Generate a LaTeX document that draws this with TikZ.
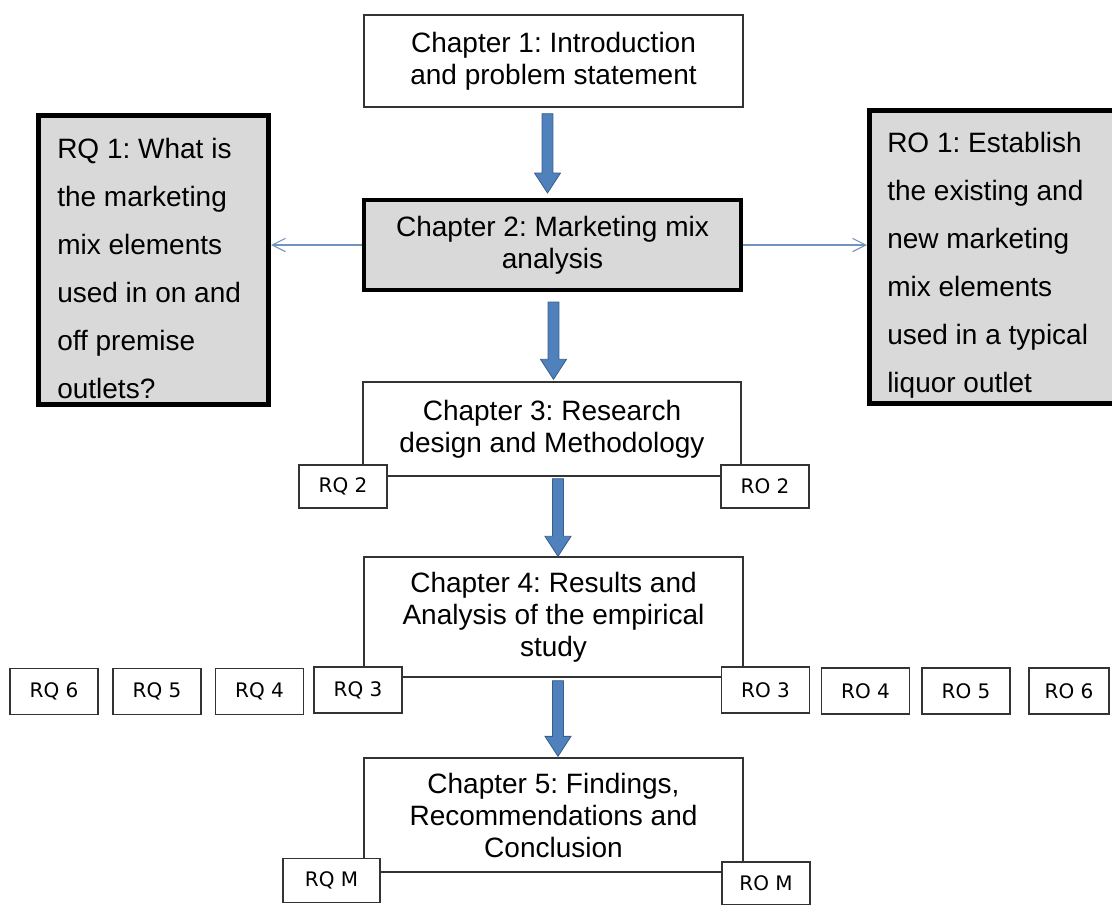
\documentclass[tikz,border=0pt]{standalone}
\usepackage{fontspec}
\setmainfont{Liberation Sans}
\newfontfamily\boxfont{DejaVu Sans}
\usetikzlibrary{calc,arrows.meta}
\frenchspacing
\definecolor{arrowblue}{HTML}{4F81BD}
\definecolor{arrowedge}{HTML}{385D8A}
\definecolor{linkblue}{HTML}{7394BD}
\definecolor{panelgray}{HTML}{D9D9D9}
\definecolor{frame}{HTML}{333333}

% Thick blue block arrow pointing down from #1 to #2 (x taken from #1)
\newcommand\blockarrow[2]{%
  \path[barrow] let \p1=(#1), \p2=(#2) in
    (\x1-4.1pt,\y1) -- (\x1+4.1pt,\y1) -- (\x1+4.1pt,\y2+15pt)
    -- (\x1+9.75pt,\y2+15pt) -- (\x1,\y2) -- (\x1-9.75pt,\y2+15pt)
    -- (\x1-4.1pt,\y2+15pt) -- cycle;}

\begin{document}
\begin{tikzpicture}[x=0.75pt,y=-0.75pt,
  chapter/.style={draw=frame, line width=1pt, fill=white, inner sep=0pt,
    align=center, font=\fontsize{21pt}{24pt}\selectfont},
  keychapter/.style={chapter, draw=black, line width=3pt, fill=panelgray},
  keybox/.style={draw=black, line width=3.75pt, fill=panelgray, inner sep=0pt},
  keytext/.style={inner sep=0pt, align=left, font=\fontsize{21pt}{36pt}\selectfont},
  tag/.style={draw=frame, line width=0.9pt, fill=white, inner sep=0pt,
    font=\boxfont\fontsize{15pt}{17pt}\selectfont},
  barrow/.style={fill=arrowblue, draw=arrowedge, line width=0.6pt, line join=miter},
  link/.style={draw=linkblue, line width=0.8pt, -{Straight Barb[length=10pt,width=10pt]}}
]
\useasboundingbox (0,0) rectangle (1112,904);

% chapter boxes
\node[chapter, minimum width=284.25pt, minimum height=69pt] (ch1) at (553.5,61)
  {Chapter 1: Introduction\\and problem statement};
\node[keychapter, minimum width=282.75pt, minimum height=67.5pt] (ch2) at (552.5,245)
  {Chapter 2: Marketing mix\\analysis};
\node[chapter, minimum width=283.5pt, minimum height=70.5pt] (ch3) at (552,429)
  {Chapter 3: Research\\design and Methodology};
\node[chapter, minimum width=284.25pt, minimum height=90pt] (ch4) at (553.5,617)
  {Chapter 4: Results and\\Analysis of the empirical\\study};
\node[chapter, minimum width=284.25pt, minimum height=85.5pt] (ch5) at (553.5,815)
  {Chapter 5: Findings,\\Recommendations and\\Conclusion};

% research question / objective panels
\node[keybox, minimum width=172.5pt, minimum height=216.75pt] (rq1) at (153.5,260) {};
\node[keytext, anchor=base west] (rq1t) at (57,398)
  {RQ 1: What is\\the marketing\\mix elements\\used in on and\\off premise\\outlets?};
\node[keybox, minimum width=187.5pt, minimum height=219.75pt] (ro1) at (994.5,257) {};
\node[keytext, anchor=base west] (ro1t) at (887,392)
  {RO 1: Establish\\the existing and\\new marketing\\mix elements\\used in a typical\\liquor outlet};

\draw[link] (ch2.west) -- (ch2.west -| rq1.east);
\draw[link] (ch2.east) -- (ch2.east -| ro1.west);

% flow arrows
\coordinate (a1s) at ($(ch1.south)+(-6,6)$);
\coordinate (a1e) at ($(ch2.north)+(-6,-5)$);
\coordinate (a2s) at ($(ch2.south)+(1,10)$);
\coordinate (a2e) at ($(ch3.north)+(1,-2)$);
\coordinate (a3s) at ($(ch3.south)+(6,2)$);
\coordinate (a3e) at ($(ch4.north)+(4.5,0)$);
\coordinate (a4s) at ($(ch4.south)+(4.5,3)$);
\coordinate (a4e) at ($(ch5.north)+(4.5,-1)$);
\blockarrow{a1s}{a1e}
\blockarrow{a2s}{a2e}
\blockarrow{a3s}{a3e}
\blockarrow{a4s}{a4e}

% small tags
\node[tag, minimum width=66pt, minimum height=32.25pt] (rq2) at (343,486.5) {RQ 2};
\node[tag, minimum width=66pt, minimum height=32.25pt] (ro2) at (765,486.5) {RO 2};

\node[tag, minimum width=66pt, minimum height=34.5pt] (rq3) at (358,690) {RQ 3};
\node[tag, minimum width=66pt, minimum height=34.5pt] (rq4) at (259.5,691.5) {RQ 4};
\node[tag, minimum width=66pt, minimum height=34.5pt] (rq5) at (157,691.5) {RQ 5};
\node[tag, minimum width=66pt, minimum height=34.5pt] (rq6) at (54,691.5) {RQ 6};
\node[tag, minimum width=66pt, minimum height=34.5pt] (ro3) at (765.5,690) {RO 3};
\node[tag, minimum width=66pt, minimum height=34.5pt] (ro4) at (865.5,691) {RO 4};
\node[tag, minimum width=66pt, minimum height=34.5pt] (ro5) at (966,691) {RO 5};
\node[tag, minimum width=60pt, minimum height=34.5pt] (ro6) at (1069,691) {RO 6};

\node[tag, minimum width=72.75pt, minimum height=33pt] (rqm) at (331.5,880.5) {RQ M};
\node[tag, minimum width=66pt, minimum height=32.25pt] (rom) at (766,883.5) {RO M};
\end{tikzpicture}
\end{document}
